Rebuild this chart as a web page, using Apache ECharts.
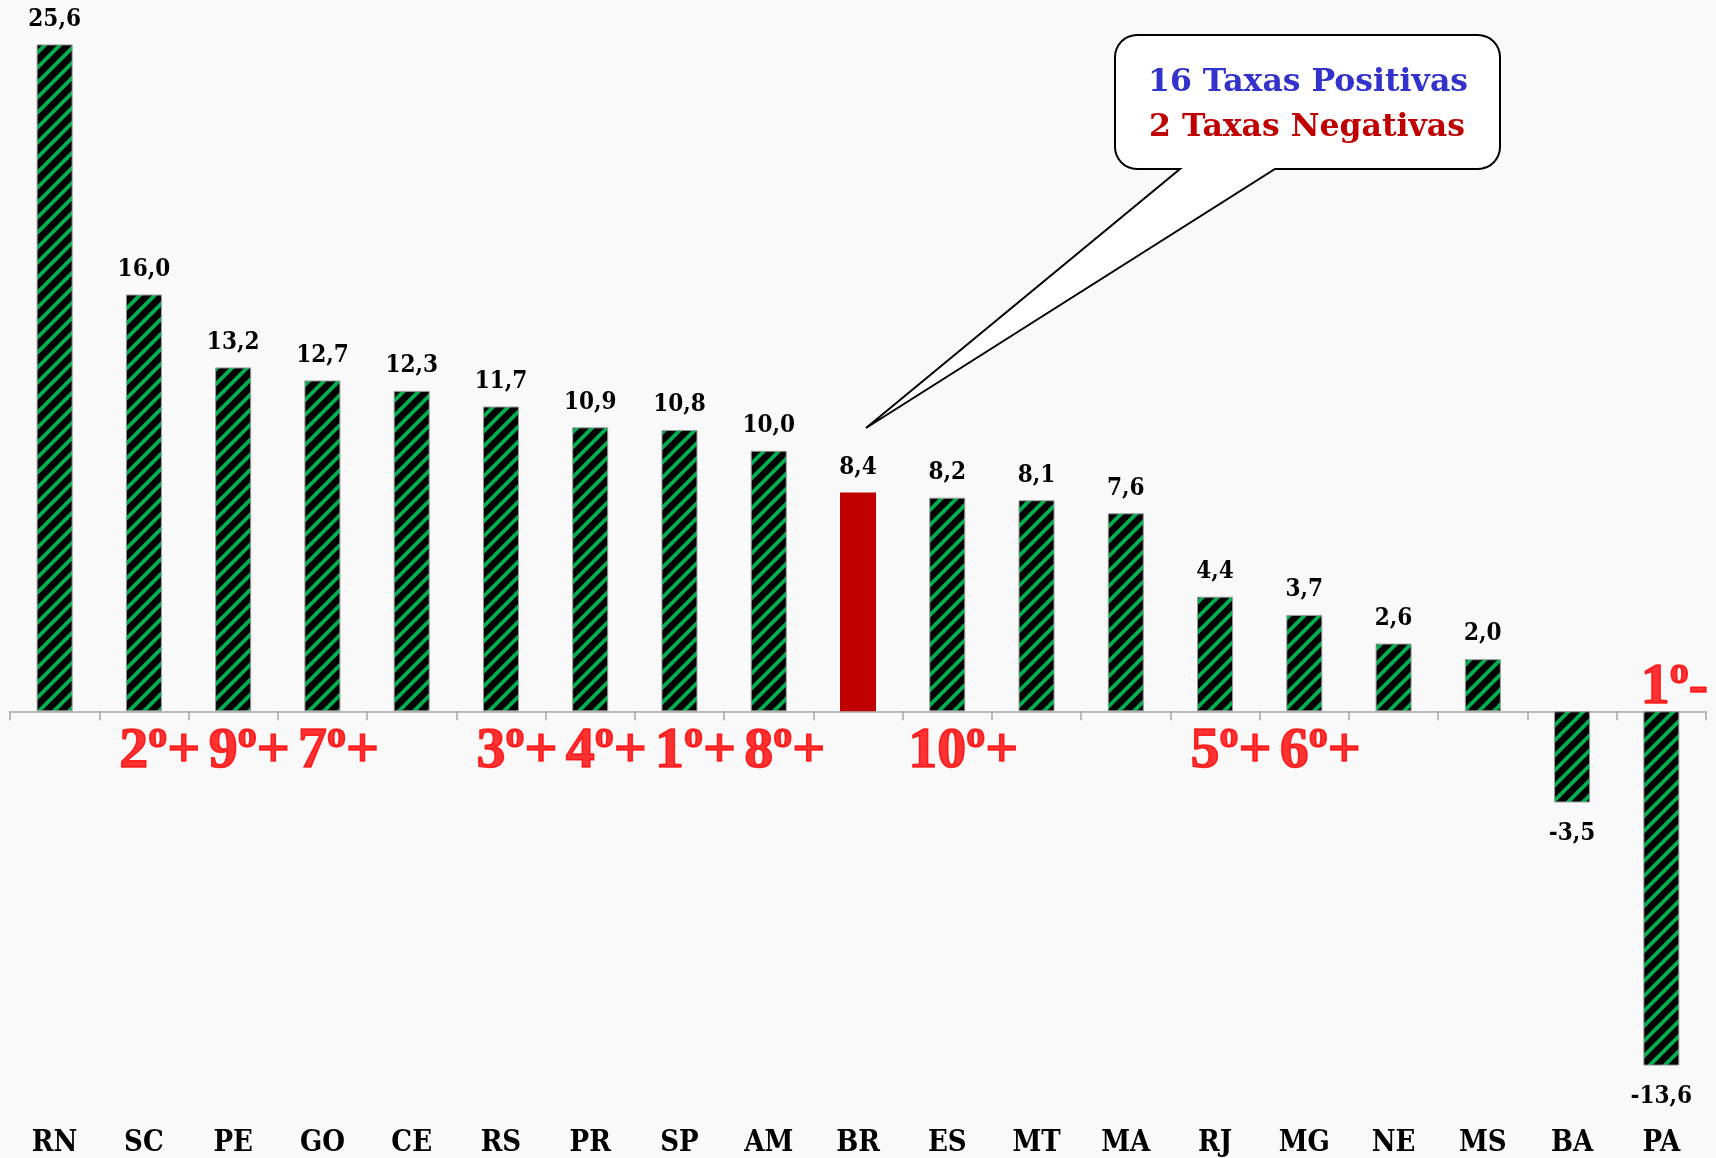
<!DOCTYPE html>
<html>
<head>
<meta charset="utf-8">
<script src="https://cdn.jsdelivr.net/npm/echarts@6/dist/echarts.min.js"></script>
<style>
html,body{margin:0;padding:0;background:#f9f9f9;}
#chart{width:1716px;height:1158px;}
</style>
</head>
<body>
<div id="chart"></div>
<script>
const categories = ['RN','SC','PE','GO','CE','RS','PR','SP','AM','BR','ES','MT','MA','RJ','MG','NE','MS','BA','PA'];
const values = [25.6,16.0,13.2,12.7,12.3,11.7,10.9,10.8,10.0,8.4,8.2,8.1,7.6,4.4,3.7,2.6,2.0,-3.5,-13.6];
const ranks = ['','2|+','9|+','7|+','','3|+','4|+','1|+','8|+','','10|+','','','5|+','6|+','','','','1|-'];
const highlighted = 'BR';
const calloutLines = ['16 Taxas Positivas','2 Taxas Negativas'];

// hatch pattern
const tile = document.createElement('canvas');
tile.width = 15; tile.height = 15;
const tc = tile.getContext('2d');
tc.fillStyle = '#000000';
tc.fillRect(0,0,15,15);
tc.strokeStyle = '#00B050';
tc.lineWidth = 3.8;
tc.beginPath();
tc.moveTo(-2,17); tc.lineTo(17,-2);
tc.moveTo(-2,2); tc.lineTo(2,-2);
tc.moveTo(13,17); tc.lineTo(17,13);
tc.stroke();
const hatch = {image: tile, repeat: 'repeat'};

// callout outline (rounded box + tail)
function calloutPoints(x0, y0, x1, y1, r, tailA, tailB, tip) {
  const pts = [];
  function arc(cx, cy, a0, a1) {
    for (let k = 0; k <= 8; k++) {
      const a = a0 + (a1 - a0) * k / 8;
      pts.push([cx + r * Math.cos(a), cy + r * Math.sin(a)]);
    }
  }
  arc(x0 + r, y0 + r, Math.PI, 1.5 * Math.PI);
  arc(x1 - r, y0 + r, 1.5 * Math.PI, 2 * Math.PI);
  arc(x1 - r, y1 - r, 0, 0.5 * Math.PI);
  pts.push([tailB, y1]);
  pts.push(tip);
  pts.push([tailA, y1]);
  arc(x0 + r, y1 - r, 0.5 * Math.PI, Math.PI);
  return pts;
}

const chart = echarts.init(document.getElementById('chart'));

const barData = values.map((v, i) => {
  const item = {value: v};
  if (categories[i] === highlighted) {
    item.itemStyle = {color: '#C00000', borderWidth: 0};
  }
  if (v < 0) {
    item.label = {position: 'bottom', distance: 19};
  }
  return item;
});

const rankData = values.map((v, i) => {
  if (!ranks[i]) return '-';
  const item = {value: 0};
  if (v < 0) item.label = {offset: [13, -26]};
  return item;
});

const redStyle = {color: '#FF0000', fontFamily: 'Liberation Serif', fontWeight: 'bold', textBorderColor: '#FF0000', textBorderWidth: 1.5};

chart.setOption({
  backgroundColor: '#f9f9f9',
  animation: false,
  grid: {left: 10, right: 10, top: 34, bottom: 82, containLabel: false},
  xAxis: [
    {
      type: 'category', data: categories, position: 'bottom',
      axisLine: {onZero: true, lineStyle: {color: '#A6A6A6', width: 1.5}},
      axisTick: {show: true, length: 9, interval: 0, lineStyle: {color: '#A6A6A6', width: 1.5}},
      axisLabel: {show: false}
    },
    {
      type: 'category', data: categories, position: 'bottom',
      axisLine: {show: false, onZero: false}, axisTick: {show: false},
      axisLabel: {show: true, interval: 0, margin: 53, color: '#000', fontFamily: 'DejaVu Serif Condensed', fontWeight: 'bold', fontSize: 29}
    }
  ],
  yAxis: {type: 'value', min: -14, max: 26, show: false, splitLine: {show: false}},
  series: [
    {
      type: 'bar', xAxisIndex: 0, data: barData, barWidth: 36,
      itemStyle: {color: hatch, borderColor: '#9a9a9a', borderWidth: 1},
      label: {
        show: true, position: 'top', distance: 13,
        color: '#000', fontFamily: 'DejaVu Serif Condensed', fontWeight: 'bold', fontSize: 24,
        formatter: p => p.value.toFixed(1).replace('.', ',')
      }
    },
    {
      type: 'scatter', xAxisIndex: 0, data: rankData, symbolSize: 0, z: 5,
      label: {
        show: true, position: 'inside', offset: [16, 38],
        formatter: p => { const parts = ranks[p.dataIndex].split('|'); return '{n|' + parts[0] + '}{s|o}{n|' + parts[1] + '}'; },
        rich: {
          n: Object.assign({fontSize: 58, lineHeight: 63, verticalAlign: 'bottom'}, redStyle),
          s: Object.assign({fontSize: 38, lineHeight: 63, verticalAlign: 'top'}, redStyle)
        }
      }
    }
  ],
  graphic: [
    {
      type: 'polygon', z: 100,
      shape: {points: calloutPoints(1115, 35, 1500, 169, 22, 1180, 1275, [866, 428])},
      style: {fill: '#ffffff', stroke: '#000000', lineWidth: 2}
    },
    {
      type: 'text', z: 101, x: 1308, y: 83,
      style: {text: calloutLines[0], fill: '#3333CC', font: 'bold 31.5px "DejaVu Serif"', textAlign: 'center', textVerticalAlign: 'middle', verticalAlign: 'middle'}
    },
    {
      type: 'text', z: 101, x: 1307, y: 128,
      style: {text: calloutLines[1], fill: '#C00000', font: 'bold 31.5px "DejaVu Serif"', textAlign: 'center', textVerticalAlign: 'middle', verticalAlign: 'middle'}
    }
  ]
});
</script>
</body>
</html>
